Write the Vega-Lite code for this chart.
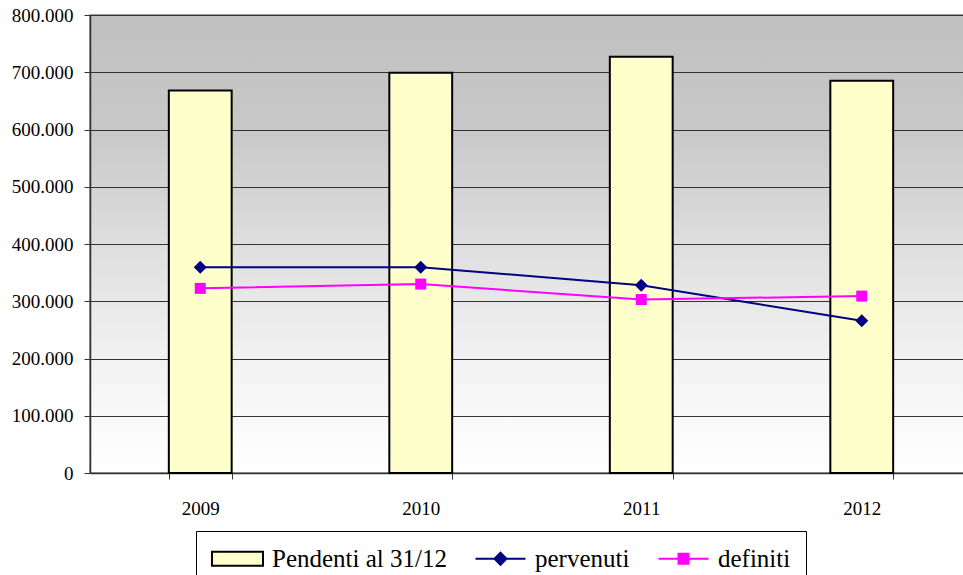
{
  "$schema": "https://vega.github.io/schema/vega-lite/v6.json",
  "width": 882,
  "height": 458,
  "padding": {"left": 11, "top": 6, "right": 0, "bottom": 0},
  "background": "white",
  "data": {
    "values": [
      {"year": "2009", "series": "Pendenti al 31/12", "value": 668000},
      {"year": "2010", "series": "Pendenti al 31/12", "value": 699000},
      {"year": "2011", "series": "Pendenti al 31/12", "value": 727000},
      {"year": "2012", "series": "Pendenti al 31/12", "value": 685000},
      {"year": "2009", "series": "pervenuti", "value": 359500},
      {"year": "2010", "series": "pervenuti", "value": 359500},
      {"year": "2011", "series": "pervenuti", "value": 328000},
      {"year": "2012", "series": "pervenuti", "value": 266000},
      {"year": "2009", "series": "definiti", "value": 322500},
      {"year": "2010", "series": "definiti", "value": 330000},
      {"year": "2011", "series": "definiti", "value": 303000},
      {"year": "2012", "series": "definiti", "value": 309000}
    ]
  },
  "encoding": {
    "x": {
      "field": "year", "type": "ordinal", "title": null,
      "scale": {"paddingInner": 0.715, "paddingOuter": 0.3575},
      "axis": {
        "labelAngle": 0, "tickBand": "extent", "labelPadding": 20,
        "tickSize": 6, "tickColor": "#333", "domainColor": "#333", "domainWidth": 1.5,
        "labelFont": "Liberation Serif", "labelFontSize": 19, "labelColor": "#000", "grid": false
      }
    },
    "y": {
      "field": "value", "type": "quantitative", "title": null,
      "scale": {"domain": [0, 800000], "nice": false},
      "axis": {
        "values": [0, 100000, 200000, 300000, 400000, 500000, 600000, 700000, 800000],
        "format": ",.0f", "labelPadding": 11, "tickSize": 6, "tickColor": "#333",
        "domainColor": "#333", "domainWidth": 1.5,
        "grid": true, "gridColor": "#333", "gridWidth": 1,
        "labelFont": "Liberation Serif", "labelFontSize": 19, "labelColor": "#000"
      }
    }
  },
  "layer": [
    {
      "transform": [{"filter": "datum.series === 'Pendenti al 31/12'"}],
      "mark": {"type": "bar", "strokeWidth": 2},
      "encoding": {
        "fill": {
          "field": "series", "type": "nominal",
          "scale": {"domain": ["Pendenti al 31/12", "pervenuti", "definiti"], "range": ["#ffffcc", "#000080", "#ff00ff"]},
          "legend": {
            "title": null, "orient": "none", "legendX": 106, "legendY": 516, "direction": "horizontal",
            "labelFont": "Liberation Serif", "labelFontSize": 25,
            "symbolType": {"expr": "datum.value === 'Pendenti al 31/12' ? 'M-5.1,-1.4H5.1V1.4H-5.1Z' : datum.value === 'pervenuti' ? 'M-5,0H5M0,-1.2L1.2,0L0,1.2L-1.2,0Z' : 'M-5,0H5M-1,-1H1V1H-1Z'"}
          }
        },
        "stroke": {
          "field": "series", "type": "nominal",
          "scale": {"domain": ["Pendenti al 31/12", "pervenuti", "definiti"], "range": ["#000000", "#000080", "#ff00ff"]},
          "legend": {
            "title": null, "orient": "none", "legendX": 106, "legendY": 516, "direction": "horizontal",
            "labelFont": "Liberation Serif", "labelFontSize": 25,
            "symbolType": {"expr": "datum.value === 'Pendenti al 31/12' ? 'M-5.1,-1.4H5.1V1.4H-5.1Z' : datum.value === 'pervenuti' ? 'M-5,0H5M0,-1.2L1.2,0L0,1.2L-1.2,0Z' : 'M-5,0H5M-1,-1H1V1H-1Z'"}
          }
        }
      }
    },
    {
      "transform": [{"filter": "datum.series !== 'Pendenti al 31/12'"}],
      "mark": {"type": "line", "strokeWidth": 2},
      "encoding": {
        "stroke": {
          "field": "series", "type": "nominal",
          "legend": {
            "title": null, "orient": "none", "legendX": 106, "legendY": 516, "direction": "horizontal",
            "labelFont": "Liberation Serif", "labelFontSize": 25,
            "symbolType": {"expr": "datum.value === 'Pendenti al 31/12' ? 'M-5.1,-1.4H5.1V1.4H-5.1Z' : datum.value === 'pervenuti' ? 'M-5,0H5M0,-1.2L1.2,0L0,1.2L-1.2,0Z' : 'M-5,0H5M-1,-1H1V1H-1Z'"}
          }
        }
      }
    },
    {
      "transform": [{"filter": "datum.series === 'pervenuti'"}],
      "mark": {"type": "point", "shape": "diamond", "filled": true, "size": 170, "color": "#000080", "opacity": 1},
      "encoding": {}
    },
    {
      "transform": [{"filter": "datum.series === 'definiti'"}],
      "mark": {"type": "point", "shape": "square", "filled": true, "size": 121, "color": "#ff00ff", "opacity": 1},
      "encoding": {}
    }
  ],
  "config": {
    "font": "Liberation Serif",
    "locale": {"number": {"decimal": ",", "thousands": ".", "grouping": [3], "currency": ["€", ""]}},
    "legend": {
      "padding": 15,
      "strokeColor": "#000000",
      "fillColor": "#ffffff",
      "labelFont": "Liberation Serif",
      "labelFontSize": 25,
      "labelColor": "#000000",
      "labelLimit": 400,
      "symbolSize": 100,
      "symbolOffset": 14,
      "labelOffset": 22,
      "columnPadding": 24,
      "symbolStrokeWidth": 2,
      "symbolOpacity": 1
    },
    "view": {
      "stroke": "#808080",
      "strokeWidth": 1.5,
      "fill": {
        "gradient": "linear", "x1": 0, "y1": 0, "x2": 0, "y2": 1,
        "stops": [
          {"offset": 0, "color": "#c0c0c0"},
          {"offset": 0.25, "color": "#c8c8c8"},
          {"offset": 0.5, "color": "#dedede"},
          {"offset": 0.75, "color": "#f2f2f2"},
          {"offset": 1, "color": "#ffffff"}
        ]
      }
    }
  }
}
